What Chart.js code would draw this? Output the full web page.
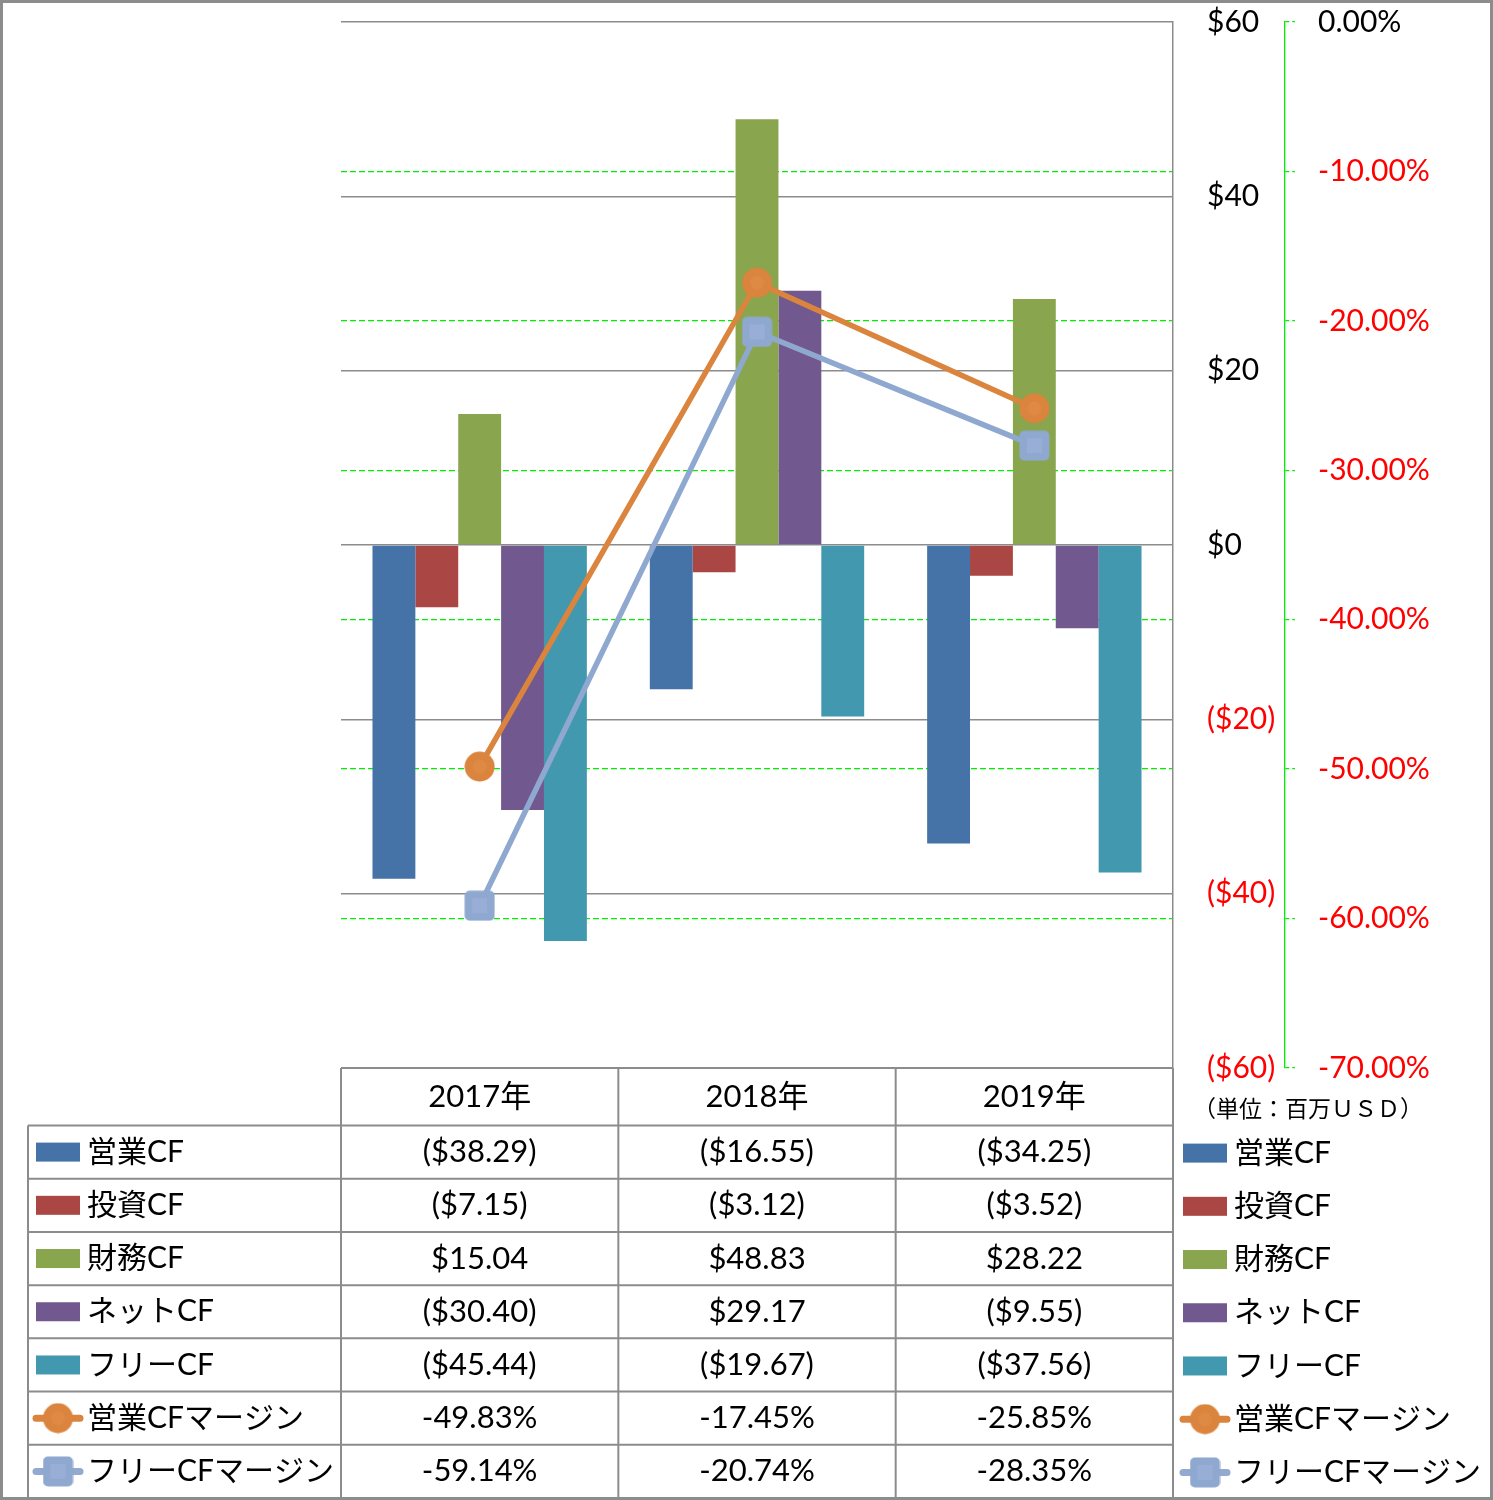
<!DOCTYPE html>
<html>
<head>
<meta charset="utf-8">
<script src="https://cdn.jsdelivr.net/npm/chart.js@4.4.0/dist/chart.umd.min.js"></script>
<style>
html, body { margin: 0; padding: 0; background: #fff; }
</style>
</head>
<body>
<canvas id="myChart" width="1493" height="1500"></canvas>
<script>
// data
var years = ['2017年', '2018年', '2019年'];
var seriesNames = ['営業CF', '投資CF', '財務CF', 'ネットCF', 'フリーCF', '営業CFマージン', 'フリーCFマージン'];
var eigyoCF = [-38.29, -16.55, -34.25];
var toushiCF = [-7.15, -3.12, -3.52];
var zaimuCF = [15.04, 48.83, 28.22];
var netCF = [-30.40, 29.17, -9.55];
var freeCF = [-45.44, -19.67, -37.56];
var eigyoMargin = [-49.83, -17.45, -25.85];
var freeMargin = [-59.14, -20.74, -28.35];
var dollarTicks = [-60, -40, -20, 0, 20, 40, 60];
var pctTicks = [-70, -60, -50, -40, -30, -20, -10, 0];
var unitLabel = '（単位：百万ＵＳＤ）';

var colors = ['#4572A7', '#AA4643', '#89A54E', '#71588F', '#4198AF', '#DB843D', '#93A9CF'];
var FONT = 'Lato, "Noto Sans CJK JP", sans-serif';

function fmtDollar(v) {
    return v < 0 ? '($' + Math.abs(v).toFixed(2) + ')' : '$' + v.toFixed(2);
}
function fmtPct(v) {
    return v.toFixed(2) + '%';
}

// marker images
function makeCircle() {
    var c = document.createElement('canvas');
    c.width = 31; c.height = 31;
    var g = c.getContext('2d');
    g.fillStyle = '#DB843D';
    g.beginPath(); g.arc(15.5, 15.5, 15, 0, Math.PI * 2); g.fill();
    g.fillStyle = '#DE8A45';
    g.beginPath(); g.arc(15.5, 15.5, 7, 0, Math.PI * 2); g.fill();
    return c;
}
function makeSquare() {
    var c = document.createElement('canvas');
    c.width = 31; c.height = 31;
    var g = c.getContext('2d');
    g.fillStyle = '#8FA8D0';
    g.beginPath(); g.roundRect(0.5, 0.5, 30, 30, 5); g.fill();
    g.fillStyle = '#99AED6';
    g.fillRect(8, 8, 15, 15);
    return c;
}
var circleImg = makeCircle();
var squareImg = makeSquare();

var tablePlugin = {
    id: 'dataTable',
    afterDraw: function (chart) {
        var ctx = chart.ctx;
        var area = chart.chartArea;
        var colW = (area.right - area.left) / years.length;
        var headTop = area.bottom;
        var headBottom = 1125.5;
        var rowH = (1498 - headBottom) / 7;
        var rows = [eigyoCF, toushiCF, zaimuCF, netCF, freeCF, eigyoMargin, freeMargin];

        ctx.save();
        ctx.strokeStyle = '#8c8c8c';
        ctx.lineWidth = 2;
        ctx.beginPath();
        // header
        ctx.moveTo(area.left, headTop); ctx.lineTo(area.right, headTop);
        for (var i = 0; i <= years.length; i++) {
            var x = area.left + i * colW;
            ctx.moveTo(x, headTop); ctx.lineTo(x, 1498);
        }
        ctx.moveTo(28, headBottom); ctx.lineTo(28, 1498);
        for (var r = 0; r <= 7; r++) {
            var y = headBottom + r * rowH;
            ctx.moveTo(28, y); ctx.lineTo(area.right, y);
        }
        ctx.stroke();

        ctx.fillStyle = '#000';
        ctx.font = '31px ' + FONT;
        ctx.textBaseline = 'middle';
        ctx.textAlign = 'center';
        for (var i = 0; i < years.length; i++) {
            ctx.fillText(years[i], area.left + (i + 0.5) * colW, (headTop + headBottom) / 2);
        }
        for (var r = 0; r < rows.length; r++) {
            var cy = headBottom + (r + 0.5) * rowH;
            ctx.font = '31px ' + FONT;
            for (var i = 0; i < years.length; i++) {
                var txt = r < 5 ? fmtDollar(rows[r][i]) : fmtPct(rows[r][i]);
                ctx.fillText(txt, area.left + (i + 0.5) * colW, cy);
            }
            drawKey(ctx, r, 33, cy);
            drawKey(ctx, r, 1180, cy + 1);
        }

        ctx.fillStyle = '#000';
        ctx.font = '23px "Noto Sans CJK JP", sans-serif';
        ctx.textAlign = 'left';
        ctx.fillText(unitLabel, 1193, 1108);

        // outer frame
        ctx.strokeStyle = '#8c8c8c';
        ctx.lineWidth = 3;
        ctx.strokeRect(1.5, 1.5, 1490, 1497);
        ctx.restore();
    }
};

function drawKey(ctx, r, x, cy) {
    if (r < 5) {
        ctx.fillStyle = colors[r];
        ctx.fillRect(x + 3, cy - 9.5, 44, 19);
    } else {
        ctx.strokeStyle = colors[r];
        ctx.lineWidth = 7;
        ctx.lineCap = 'round';
        ctx.beginPath(); ctx.moveTo(x + 3, cy); ctx.lineTo(x + 47, cy); ctx.stroke();
        var img = r === 5 ? circleImg : squareImg;
        ctx.drawImage(img, x + 25 - img.width / 2, cy - img.height / 2);
    }
    ctx.fillStyle = '#000';
    ctx.font = '30px ' + FONT;
    ctx.textAlign = 'left';
    ctx.textBaseline = 'middle';
    ctx.fillText(seriesNames[r], x + 54, cy);
    ctx.textAlign = 'center';
}

function barSet(i, data) {
    return {
        type: 'bar', label: seriesNames[i], data: data, backgroundColor: colors[i],
        yAxisID: 'y', order: 2, categoryPercentage: 0.773, barPercentage: 1.0
    };
}

function noPad(s, w) {
    s.width = w;
    s.paddingTop = 0;
    s.paddingBottom = 0;
}

const ctx = document.getElementById('myChart');
new Chart(ctx, {
    type: 'bar',
    data: {
        labels: years,
        datasets: [
            barSet(0, eigyoCF),
            barSet(1, toushiCF),
            barSet(2, zaimuCF),
            barSet(3, netCF),
            barSet(4, freeCF),
            {
                type: 'line', label: seriesNames[5], data: eigyoMargin, yAxisID: 'y1', order: 1,
                borderColor: colors[5], borderWidth: 5.5, pointStyle: circleImg, pointRadius: 15
            },
            {
                type: 'line', label: seriesNames[6], data: freeMargin, yAxisID: 'y1', order: 0,
                borderColor: '#8FA8D0', borderWidth: 5.5, pointStyle: squareImg, pointRadius: 15
            }
        ]
    },
    options: {
        responsive: false,
        animation: false,
        layout: { padding: { left: 341, top: 22, right: 0, bottom: 432 } },
        plugins: { legend: { display: false }, tooltip: { enabled: false } },
        scales: {
            x: { display: false },
            y: {
                position: 'right', weight: 0, min: -60, max: 60,
                afterBuildTicks: function (s) { s.ticks = dollarTicks.map(function (v) { return { value: v }; }); },
                afterFit: function (s) { noPad(s, 112); },
                grid: { color: '#8c8c8c', lineWidth: 1.5, drawTicks: false },
                border: { color: '#8c8c8c', width: 1.5 },
                ticks: {
                    padding: 34, font: { family: FONT, size: 30 },
                    color: function (c) { return c.tick && c.tick.value < 0 ? '#ff0000' : '#000'; },
                    callback: function (v) { return v < 0 ? '($' + Math.abs(v) + ')' : '$' + v; }
                }
            },
            y1: {
                position: 'right', weight: 1, min: -70, max: 0,
                afterBuildTicks: function (s) { s.ticks = pctTicks.map(function (v) { return { value: v }; }); },
                afterFit: function (s) { noPad(s, 208); },
                grid: {
                    color: function (c) { return c.tick && (c.tick.value === 0 || c.tick.value === -70) ? 'rgba(0,0,0,0)' : '#00ee00'; },
                    lineWidth: 1.3, tickLength: 10, tickColor: '#00ee00', tickBorderDash: [4, 3]
                },
                border: { color: '#00ee00', width: 1.3, dash: [6, 3] },
                ticks: {
                    padding: 23, font: { family: FONT, size: 30 },
                    color: function (c) { return c.tick && c.tick.value < 0 ? '#ff0000' : '#000'; },
                    callback: function (v) { return v.toFixed(2) + '%'; }
                }
            }
        }
    },
    plugins: [tablePlugin]
});
</script>
</body>
</html>
